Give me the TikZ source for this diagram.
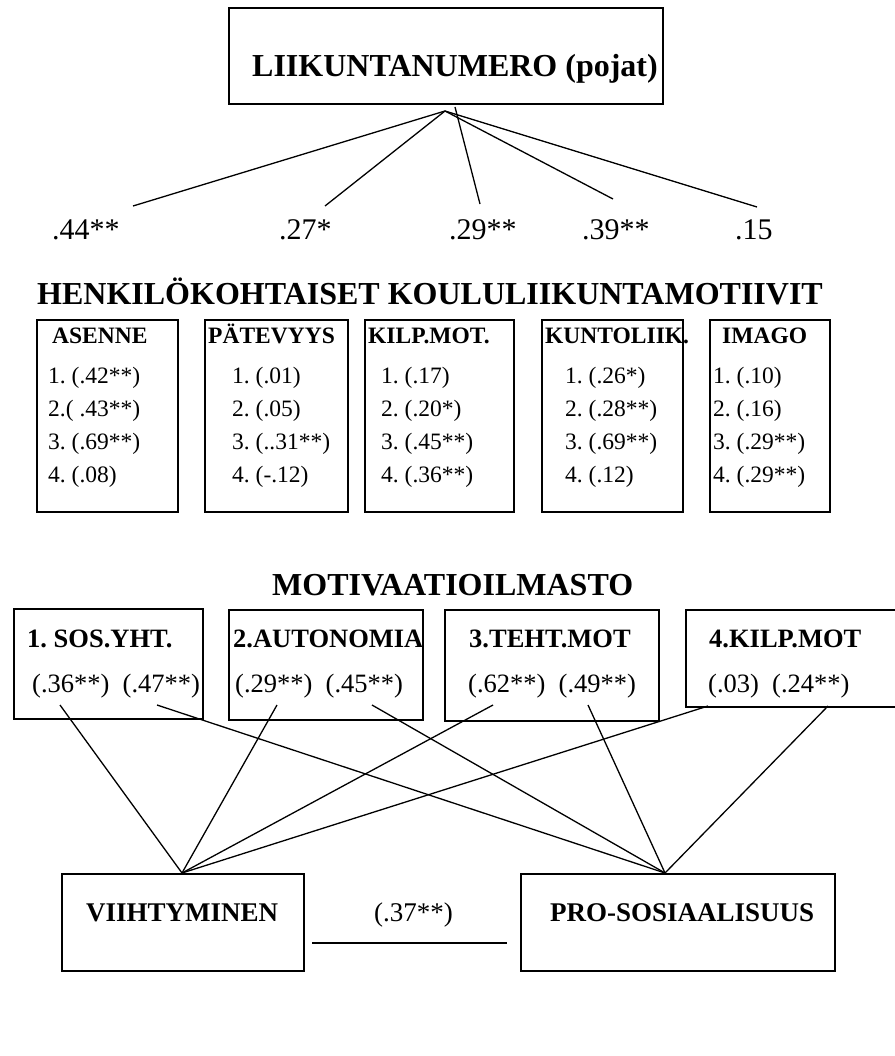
\documentclass[tikz,border=0pt]{standalone}
\usepackage{fontspec}
\setmainfont{Liberation Serif}
\usetikzlibrary{calc}
\frenchspacing
\begin{document}
\frenchspacing
\begin{tikzpicture}[x=1pt,y=-1pt,
  box/.style={draw, line width=1.8pt, inner sep=0pt, anchor=north west, rectangle},
  conn/.style={line width=1.3pt},
  txt/.style={anchor=base west, inner sep=0pt},
  big/.style={txt, font=\fontsize{32}{38}\selectfont\bfseries\frenchspacing},
  num/.style={txt, font=\fontsize{30}{36}\selectfont},
  small/.style={txt, font=\fontsize{23.5}{28}\selectfont\bfseries},
  item/.style={txt, font=\fontsize{23.5}{28}\selectfont\frenchspacing},
  mid/.style={txt, font=\fontsize{26.5}{32}\selectfont\bfseries\frenchspacing},
  midv/.style={txt, font=\fontsize{26.5}{32}\selectfont},
  bot/.style={txt, font=\fontsize{27}{32}\selectfont\bfseries},
  botv/.style={txt, font=\fontsize{27}{32}\selectfont},
]
\useasboundingbox (0,0) rectangle (894,1056);

% ---- top box
\node[box, minimum width=434pt, minimum height=96pt] (top) at (228,7) {};
\node[big] (toptxt) at (252,77) {LIIKUNTANUMERO (pojat)};

% ---- correlation numbers
\node[num] (n44) at (52,240) {.44**};
\node[num] (n27) at (279,240) {.27*};
\node[num] (n29) at (449,240) {.29**};
\node[num] (n39) at (582,240) {.39**};
\node[num] (n15) at (735,240) {.15};

\coordinate (apex) at (445,111);
\coordinate (apex2) at (455,107);
\coordinate (e44) at (133,206);
\coordinate (e27) at (325,206);
\coordinate (e29) at (480,204);
\coordinate (e39) at (613,199);
\coordinate (e15) at (757,207);
\draw[conn] (apex) -- (e44);
\draw[conn] (apex) -- (e27);
\draw[conn] (apex2) -- (e29);
\draw[conn] (apex) -- (e39);
\draw[conn] (apex) -- (e15);

% ---- heading
\node[big] (henk) at (37,305) {HENKILÖKOHTAISET KOULULIIKUNTAMOTIIVIT};

% ---- five motive boxes
\node[box, minimum width=141pt, minimum height=192pt] (asenne) at (36,319) {};
\node[box, minimum width=143pt, minimum height=192pt] (patev) at (204,319) {};
\node[box, minimum width=149pt, minimum height=192pt] (kilp) at (364,319) {};
\node[box, minimum width=141pt, minimum height=192pt] (kunto) at (541,319) {};
\node[box, minimum width=120pt, minimum height=192pt] (imago) at (709,319) {};

\node[small] (t1) at (52,343) {ASENNE};
\node[small] (t2) at (208,343) {PÄTEVYYS};
\node[small] (t3) at (368,343) {KILP.MOT.};
\node[small] (t4) at (545,343) {KUNTOLIIK.};
\node[small] (t5) at (722,343) {IMAGO};

\node[item] (a1) at (48,383) {1. (.42**)};
\node[item] (a2) at (48,416) {2.( .43**)};
\node[item] (a3) at (48,449) {3. (.69**)};
\node[item] (a4) at (48,482) {4. (.08)};

\node[item] (p1) at (232,383) {1. (.01)};
\node[item] (p2) at (232,416) {2. (.05)};
\node[item] (p3) at (232,449) {3. (..31**)};
\node[item] (p4) at (232,482) {4. (-.12)};

\node[item] (k1) at (381,383) {1. (.17)};
\node[item] (k2) at (381,416) {2. (.20*)};
\node[item] (k3) at (381,449) {3. (.45**)};
\node[item] (k4) at (381,482) {4. (.36**)};

\node[item] (u1) at (565,383) {1. (.26*)};
\node[item] (u2) at (565,416) {2. (.28**)};
\node[item] (u3) at (565,449) {3. (.69**)};
\node[item] (u4) at (565,482) {4. (.12)};

\node[item] (i1) at (713,383) {1. (.10)};
\node[item] (i2) at (713,416) {2. (.16)};
\node[item] (i3) at (713,449) {3. (.29**)};
\node[item] (i4) at (713,482) {4. (.29**)};

% ---- motivation climate
\node[big] (motiv) at (272,595) {MOTIVAATIOILMASTO};

\node[box, minimum width=189pt, minimum height=110pt] (b1) at (13,608) {};
\node[box, minimum width=194pt, minimum height=110pt] (b2) at (228,609) {};
\node[box, minimum width=214pt, minimum height=111pt] (b3) at (444,609) {};
\node[box, minimum width=214pt, minimum height=97pt] (b4) at (685,609) {};

\node[mid] (m1) at (27,647) {1. SOS.YHT.};
\node[mid] (m2) at (233,647) {2.AUTONOMIA};
\node[mid] (m3) at (469,647) {3.TEHT.MOT};
\node[mid] (m4) at (709,647) {4.KILP.MOT};

\node[midv] (v1) at (32,692) {(.36**)~~(.47**)};
\node[midv] (v2) at (235,692) {(.29**)~~(.45**)};
\node[midv] (v3) at (468,692) {(.62**)~~(.49**)};
\node[midv] (v4) at (708,692) {(.03)~~(.24**)};

% ---- outcome boxes
\node[box, minimum width=242pt, minimum height=97pt] (viih) at (61,873) {};
\node[box, minimum width=314pt, minimum height=97pt] (pro) at (520,873) {};
\node[bot] (viihtxt) at (86,921) {VIIHTYMINEN};
\node[bot] (protxt) at (550,921) {PRO-SOSIAALISUUS};
\node[botv] (r37) at (374,921) {(.37**)};

\coordinate (vin) at (182,873);
\coordinate (pin) at (665,873);
\coordinate (s36) at (60,705);
\coordinate (s47) at (157,705);
\coordinate (s29) at (277,705);
\coordinate (s45) at (372,705);
\coordinate (s62) at (493,705);
\coordinate (s49) at (588,705);
\coordinate (s03) at (708,706);
\coordinate (s24) at (828,706);

\draw[conn] (s36) -- (vin);
\draw[conn] (s29) -- (vin);
\draw[conn] (s62) -- (vin);
\draw[conn] (s03) -- (vin);
\draw[conn] (s47) -- (pin);
\draw[conn] (s45) -- (pin);
\draw[conn] (s49) -- (pin);
\draw[conn] (s24) -- (pin);

\coordinate (hl) at (312,943);
\coordinate (hr) at (507,943);
\draw[line width=1.8pt] (hl) -- (hr);
\end{tikzpicture}
\end{document}
